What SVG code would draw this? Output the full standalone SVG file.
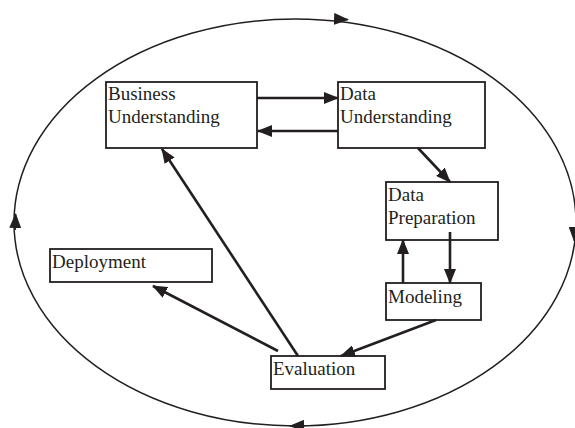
<svg xmlns="http://www.w3.org/2000/svg" width="575" height="428" viewBox="0 0 575 428">
<style>
.box{fill:#fff;stroke:#231f20;stroke-width:1.8}
.lbl{font-family:"Liberation Serif","Times New Roman",serif;font-size:19px;fill:#231f20}
.con{fill:none;stroke:#231f20;stroke-width:2.6}
.cyc{fill:none;stroke:#231f20;stroke-width:1.5}
</style>
<defs>
<marker id="ah" viewBox="0 0 15 12" refX="14" refY="6" markerWidth="15" markerHeight="12" markerUnits="userSpaceOnUse" orient="auto">
<path d="M0,0 L15,6 L0,12 z" fill="#231f20"/>
</marker>
</defs>
<rect width="575" height="428" fill="#fff"/>
<g id="cycle">
<ellipse class="cyc" cx="295" cy="222.5" rx="281" ry="203.5"/>
<path class="cyc" d="M 340 19.2 L 348 19.6" marker-end="url(#ah)"/>
<path class="cyc" d="M 574.6 228 L 574.3 241" marker-end="url(#ah)"/>
<path class="cyc" d="M 305 425.8 L 290 425.9" marker-end="url(#ah)"/>
<path class="cyc" d="M 15.2 230 L 15.6 214" marker-end="url(#ah)"/>
</g>
<g id="business">
<rect class="box" x="106" y="82" width="151" height="66"/>
<text class="lbl" x="108" y="100">Business</text>
<text class="lbl" x="108" y="123">Understanding</text>
</g>
<g id="data-understanding">
<rect class="box" x="338" y="82" width="147" height="66"/>
<text class="lbl" x="340" y="100">Data</text>
<text class="lbl" x="340" y="123">Understanding</text>
</g>
<g id="data-preparation">
<rect class="box" x="386" y="182" width="112" height="58"/>
<text class="lbl" x="388" y="201">Data</text>
<text class="lbl" x="388" y="224">Preparation</text>
</g>
<g id="modeling">
<rect class="box" x="386" y="283" width="95" height="37"/>
<text class="lbl" x="388" y="303">Modeling</text>
</g>
<g id="deployment">
<rect class="box" x="50" y="249" width="162" height="33"/>
<text class="lbl" x="52" y="268">Deployment</text>
</g>
<g id="evaluation">
<rect class="box" x="271" y="356" width="114" height="33"/>
<text class="lbl" x="273" y="375">Evaluation</text>
</g>
<g id="connectors">
<path class="con" d="M 257 98 L 338 98" marker-end="url(#ah)"/>
<path class="con" d="M 338 131 L 258 131" marker-end="url(#ah)"/>
<path class="con" d="M 418 148 L 450 182" marker-end="url(#ah)"/>
<path class="con" d="M 450 232 L 450 283" marker-end="url(#ah)"/>
<path class="con" d="M 403 283 L 403 240" marker-end="url(#ah)"/>
<path class="con" d="M 436 320 L 341 356" marker-end="url(#ah)"/>
<path class="con" d="M 278 351 L 153 286" marker-end="url(#ah)"/>
<path class="con" d="M 298 356 L 162 149" marker-end="url(#ah)"/>
</g>
</svg>
